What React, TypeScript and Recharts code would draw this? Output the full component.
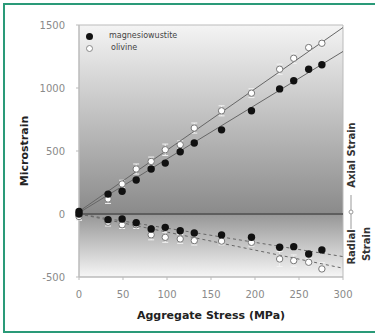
import { ScatterChart, Scatter, XAxis, YAxis, ErrorBar, ReferenceArea, ReferenceLine } from "recharts"

// aggregate stress (MPa) for each load step
const stress = [0, 33, 49, 65, 82, 98, 115, 131, 162, 196, 228, 244, 261, 276]

// axial strain (microstrain)
const magAxial = [20, 158, 180, 270, 357, 404, 494, 563, 668, 819, 993, 1057, 1149, 1184]
const olAxial = [-10, 119, 238, 357, 417, 510, 550, 682, 819, 959, 1149, 1236, 1321, 1355]
const olAxialErr = [30, 35, 30, 40, 35, 45, 30, 40, 40, 35, 40, 40, 35, 30]

// radial strain (microstrain)
const magRadial = [0, -45, -40, -70, -119, -106, -132, -151, -166, -185, -264, -259, -317, -285]
const olRadial = [-20, -65, -85, -85, -165, -185, -198, -211, -215, -225, -357, -370, -383, -436]
const olRadialErr = [30, 30, 30, 30, 40, 40, 35, 35, 30, 30, 60, 45, 30, 50]

// fitted trend lines, end points
const fitX = [0, 300]
const magAxialFit = [10, 1290]
const olAxialFit = [20, 1480]
const magRadialFit = [0, -338]
const olRadialFit = [0, -430]

const xTicks = [0, 50, 100, 150, 200, 250, 300]
const yTicks = [-500, 0, 500, 1000, 1500]

const toPoints = (xs: number[], ys: number[], errs?: number[]) =>
  xs.map((x, i) => ({ x, y: ys[i], err: errs ? errs[i] : 0 }))

const FilledDot = (props: any) => <circle cx={props.cx} cy={props.cy} r={3.7} fill="#111" />
const OpenDot = (props: any) => (
  <circle cx={props.cx} cy={props.cy} r={3.2} fill="#fff" stroke="#777" strokeWidth={1} />
)
const NoDot = () => <g />

const tickStyle = { fill: "#8a8a8a", fontSize: 10 }

export default function App() {
  return (
    <div style={{ position: "relative", width: 375, height: 334, overflow: "hidden", fontFamily: "DejaVu Sans", background: "#fff" }}>
      <style>{`body{margin:0}`}</style>
      {/* green frame */}
      <div style={{ position: "absolute", left: 3, top: 3, width: 400, height: 326, border: "2px solid #2a9a78" }} />

      <ScatterChart width={375} height={334} margin={{ top: 25, right: 32, bottom: 0, left: 0 }} style={{ position: "absolute", left: 0, top: 0 }}>
        <defs>
          <linearGradient id="upperFill" x1="0" y1="0" x2="0" y2="1">
            <stop offset="0%" stopColor="#f4f4f4" />
            <stop offset="100%" stopColor="#8a8a8a" />
          </linearGradient>
          <linearGradient id="lowerFill" x1="0" y1="0" x2="0" y2="1">
            <stop offset="0%" stopColor="#969696" />
            <stop offset="100%" stopColor="#f6f6f6" />
          </linearGradient>
        </defs>
        <XAxis
          type="number"
          dataKey="x"
          domain={[0, 300]}
          ticks={xTicks}
          height={57}
          tick={tickStyle}
          tickSize={3}
          tickMargin={11}
          stroke="#bbb"
          label={{ value: "Aggregate Stress (MPa)", position: "insideBottom", offset: 15, fill: "#222", fontSize: 11, fontWeight: "bold" }}
        />
        <YAxis
          type="number"
          dataKey="y"
          domain={[-500, 1500]}
          ticks={yTicks}
          width={79}
          tick={tickStyle}
          tickSize={3}
          tickMargin={11}
          stroke="#bbb"
          label={{ value: "Microstrain", angle: -90, position: "insideLeft", offset: 24, fill: "#222", fontSize: 11, fontWeight: "bold", style: { textAnchor: "middle" } }}
        />
        <ReferenceArea x1={0} x2={300} y1={0} y2={1500} fill="url(#upperFill)" fillOpacity={1} stroke="none" />
        <ReferenceArea x1={0} x2={300} y1={-500} y2={0} fill="url(#lowerFill)" fillOpacity={1} stroke="none" />
        <ReferenceArea x1={0} x2={300} y1={-500} y2={1500} fill="none" stroke="#bbb" />
        <ReferenceLine y={0} stroke="#5e5e5e" strokeWidth={2} />

        <Scatter data={toPoints(fitX, olAxialFit)} shape={NoDot} line={{ stroke: "#666", strokeWidth: 1 }} isAnimationActive={false} />
        <Scatter data={toPoints(fitX, magAxialFit)} shape={NoDot} line={{ stroke: "#666", strokeWidth: 1 }} isAnimationActive={false} />
        <Scatter data={toPoints(fitX, magRadialFit)} shape={NoDot} line={{ stroke: "#666", strokeWidth: 1, strokeDasharray: "3 3" }} isAnimationActive={false} />
        <Scatter data={toPoints(fitX, olRadialFit)} shape={NoDot} line={{ stroke: "#666", strokeWidth: 1, strokeDasharray: "3 3" }} isAnimationActive={false} />

        <Scatter data={toPoints(stress, olAxial, olAxialErr)} shape={OpenDot} isAnimationActive={false}>
          <ErrorBar dataKey="err" direction="y" width={3} stroke="#f2f2f2" strokeWidth={1} />
        </Scatter>
        <Scatter data={toPoints(stress, olRadial, olRadialErr)} shape={OpenDot} isAnimationActive={false}>
          <ErrorBar dataKey="err" direction="y" width={3} stroke="#f2f2f2" strokeWidth={1} />
        </Scatter>
        <Scatter data={toPoints(stress, magAxial)} shape={FilledDot} isAnimationActive={false} />
        <Scatter data={toPoints(stress, magRadial)} shape={FilledDot} isAnimationActive={false} />
      </ScatterChart>

      {/* legend inside the plot */}
      <div style={{ position: "absolute", left: 86, top: 30, fontSize: 8, color: "#444", lineHeight: "12px" }}>
        <div style={{ display: "flex", alignItems: "center" }}>
          <span style={{ width: 7, height: 7, borderRadius: "50%", background: "#111", display: "inline-block", marginRight: 16 }} />
          magnesiowustite
        </div>
        <div style={{ display: "flex", alignItems: "center" }}>
          <span style={{ width: 5, height: 5, borderRadius: "50%", background: "#fff", border: "1px solid #888", display: "inline-block", marginRight: 18 }} />
          olivine
        </div>
      </div>

      {/* right-hand side labels */}
      <div style={{ position: "absolute", left: 351, top: 155, transform: "translate(-50%, -50%) rotate(-90deg)", fontSize: 10, fontWeight: "bold", color: "#333", whiteSpace: "nowrap" }}>
        Axial Strain
      </div>
      <svg style={{ position: "absolute", left: 346, top: 195 }} width={10} height={34}>
        <line x1={5} y1={0} x2={5} y2={34} stroke="#999" strokeWidth={1} />
        <circle cx={5} cy={17} r={2} fill="#fff" stroke="#999" />
      </svg>
      <div style={{ position: "absolute", left: 351, top: 247, transform: "translate(-50%, -50%) rotate(-90deg)", fontSize: 10, fontWeight: "bold", color: "#333", whiteSpace: "nowrap" }}>
        Radial
      </div>
      <div style={{ position: "absolute", left: 366, top: 244, transform: "translate(-50%, -50%) rotate(-90deg)", fontSize: 10, fontWeight: "bold", color: "#333", whiteSpace: "nowrap" }}>
        Strain
      </div>
    </div>
  )
}
